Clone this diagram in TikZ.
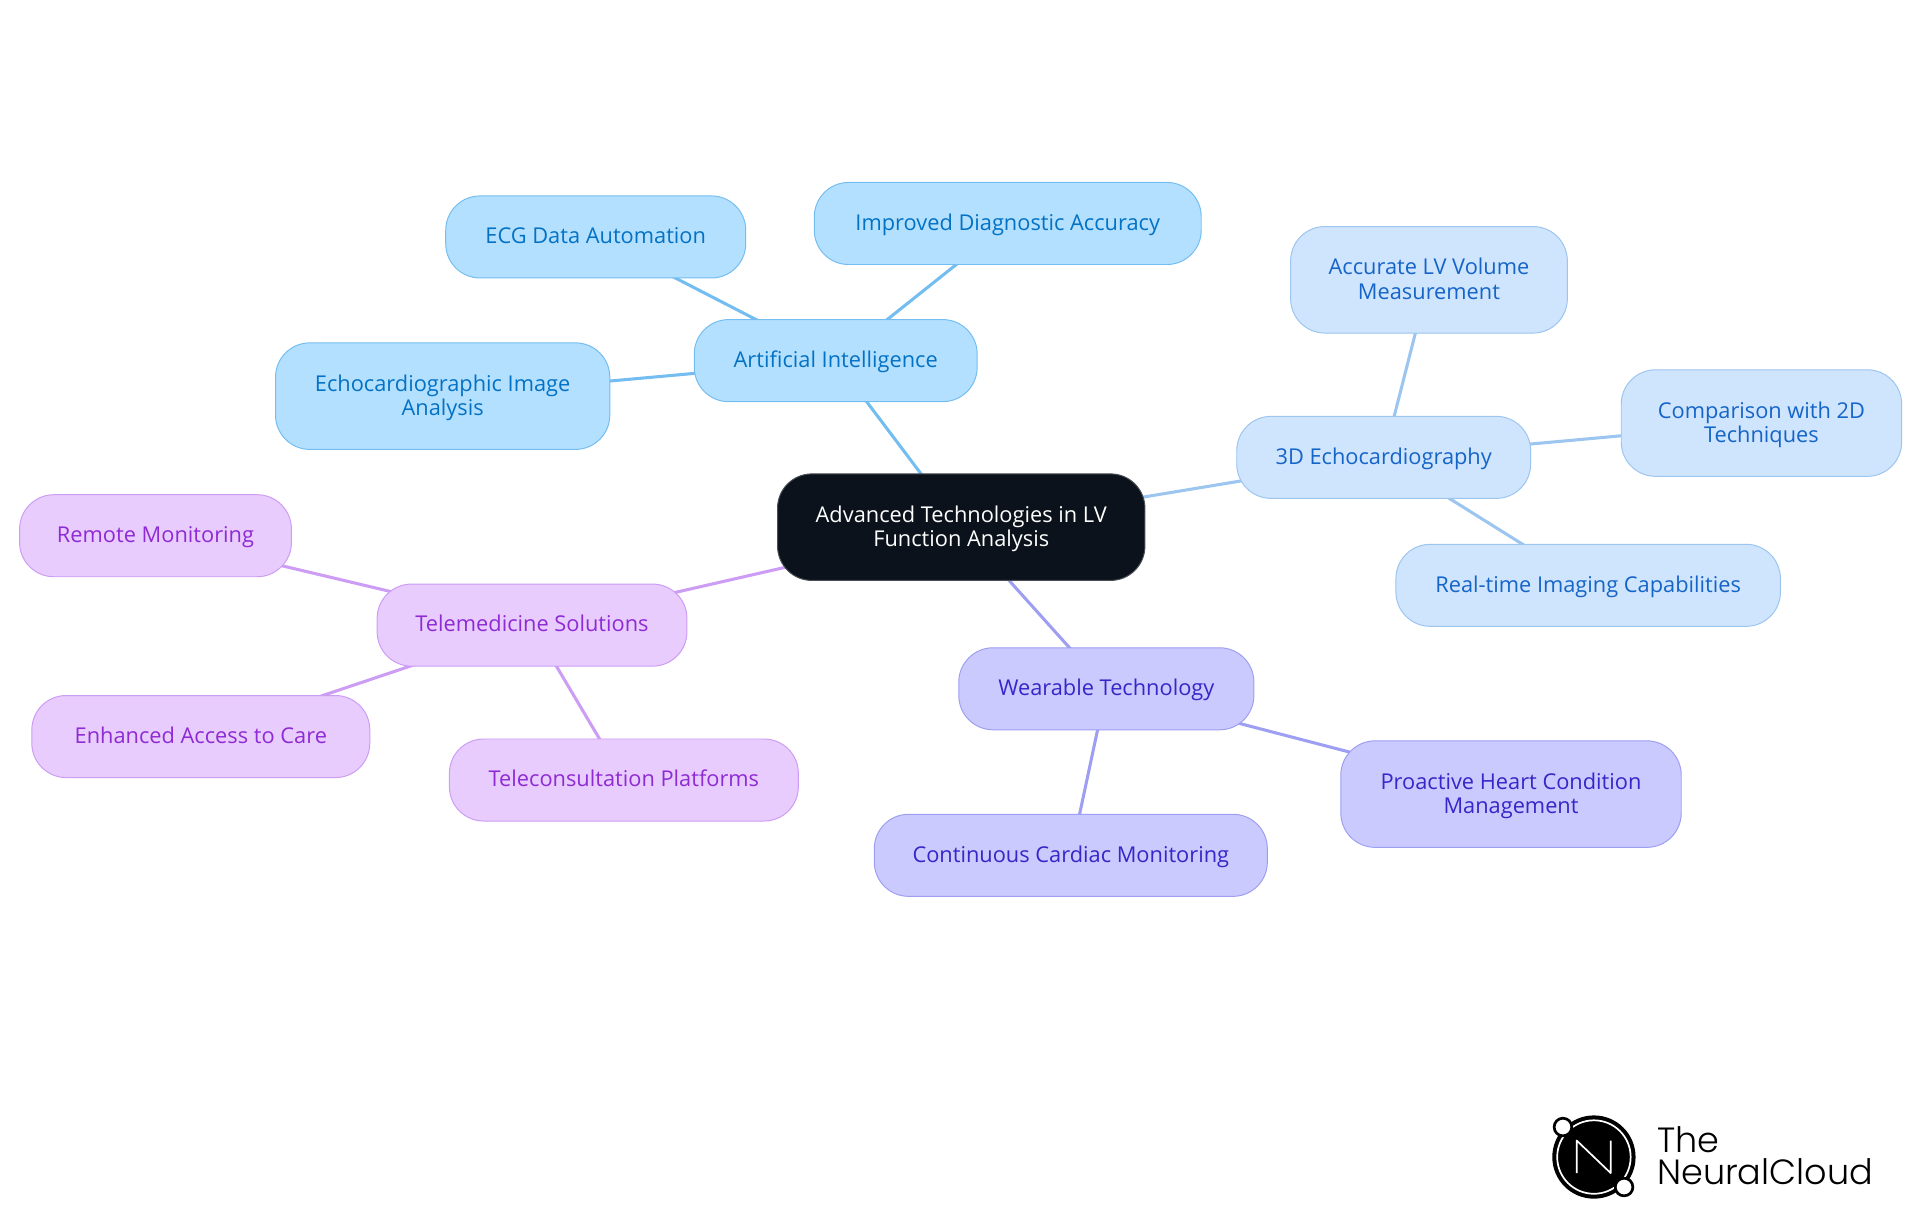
\documentclass[tikz,border=0pt]{standalone}
\usepackage{fontspec}
\setmainfont{Open Sans}
\newfontfamily\logofont[UprightFont=* Light]{Poppins}
\usetikzlibrary{backgrounds}
\definecolor{rootfill}{HTML}{0B121B}
\definecolor{rootline}{HTML}{4A4E54}
\definecolor{afill}{HTML}{B3E0FF}
\definecolor{aline}{HTML}{74BDF0}
\definecolor{atext}{HTML}{0472C4}
\definecolor{bfill}{HTML}{CFE4FD}
\definecolor{bline}{HTML}{9CC5F0}
\definecolor{btext}{HTML}{1565C8}
\definecolor{cfill}{HTML}{CACAFE}
\definecolor{cline}{HTML}{9E9EF2}
\definecolor{ctext}{HTML}{3527C8}
\definecolor{dfill}{HTML}{E8CCFD}
\definecolor{dline}{HTML}{CD9CF4}
\definecolor{dtext}{HTML}{8E2BD4}
\tikzset{
  mapbox/.style={draw, rounded corners=14pt, line width=0.4pt, align=center, inner sep=0pt, font=\fontsize{8.9}{10}\selectfont},
  onebox/.style={mapbox, minimum height=33.5pt, text height=7.2pt, text depth=1.7pt},
  twobox/.style={mapbox, minimum height=43.5pt, text height=17pt, text depth=1pt},
  abox/.style={fill=afill, draw=aline, text=atext},
  bbox/.style={fill=bfill, draw=bline, text=btext},
  cbox/.style={fill=cfill, draw=cline, text=ctext},
  dbox/.style={fill=dfill, draw=dline, text=dtext},
  link/.style={line width=1.25pt}
}

\begin{document}
\begin{tikzpicture}[x=0.5pt, y=-0.5pt]
  \useasboundingbox (0, 0) rectangle (1568, 992.2);

  \node[twobox, fill=rootfill, draw=rootline, text=white, minimum width=150pt] (R) at (785, 430.5) {Advanced Technologies in LV\\Function Analysis};

  \node[onebox, abox, minimum width=115.5pt] (A) at (682.5, 294.5) {Artificial Intelligence};
  \node[onebox, abox, minimum width=122.5pt] (A1) at (486.5, 193.5) {ECG Data Automation};
  \node[onebox, abox, minimum width=158pt] (A2) at (823, 182.5) {Improved Diagnostic Accuracy};
  \node[twobox, abox, minimum width=136.5pt] (A3) at (361.5, 323.5) {Echocardiographic Image\\Analysis};

  \node[onebox, bbox, minimum width=120pt] (B) at (1130, 373.5) {3D Echocardiography};
  \node[twobox, bbox, minimum width=113pt] (B1) at (1167, 228.5) {Accurate LV Volume\\Measurement};
  \node[twobox, bbox, minimum width=114.5pt] (B2) at (1438.5, 345.5) {Comparison with 2D\\Techniques};
  \node[onebox, bbox, minimum width=157pt] (B3) at (1297, 478) {Real-time Imaging Capabilities};

  \node[onebox, cbox, minimum width=120.5pt] (C) at (903.5, 562.5) {Wearable Technology};
  \node[twobox, cbox, minimum width=139pt] (C1) at (1234, 648.5) {Proactive Heart Condition\\Management};
  \node[onebox, cbox, minimum width=160.5pt] (C2) at (874.5, 698.5) {Continuous Cardiac Monitoring};

  \node[onebox, dbox, minimum width=126.5pt] (D) at (434.5, 510.5) {Telemedicine Solutions};
  \node[onebox, dbox, minimum width=111pt] (D1) at (127, 437.5) {Remote Monitoring};
  \node[onebox, dbox, minimum width=138pt] (D2) at (164, 601.5) {Enhanced Access to Care};
  \node[onebox, dbox, minimum width=142.5pt] (D3) at (509.5, 637) {Teleconsultation Platforms};

  \begin{scope}[on background layer]
    \draw[link, draw=aline] (R.center) -- (A.center);
    \draw[link, draw=aline] (A.center) -- (A1.center);
    \draw[link, draw=aline] (A.center) -- (A2.center);
    \draw[link, draw=aline] (A.center) -- (A3.center);

    \draw[link, draw=bline] (R.center) -- (B.center);
    \draw[link, draw=bline] (B.center) -- (B1.center);
    \draw[link, draw=bline] (B.center) -- (B2.center);
    \draw[link, draw=bline] (B.center) -- (B3.center);

    \draw[link, draw=cline] (R.center) -- (C.center);
    \draw[link, draw=cline] (C.center) -- (C1.center);
    \draw[link, draw=cline] (C.center) -- (C2.center);

    \draw[link, draw=dline] (R.center) -- (D.center);
    \draw[link, draw=dline] (D.center) -- (D1.center);
    \draw[link, draw=dline] (D.center) -- (D2.center);
    \draw[link, draw=dline] (D.center) -- (D3.center);
  \end{scope}

  \fill[black] (1301.7, 944.9) circle (17pt);
  \draw[white, line width=0.7pt] (1301.7, 944.9) circle (15pt);
  \draw[white, line width=0.7pt, line join=round] (1287.6, 958) -- (1287.6, 931.4) -- (1315.4, 958) -- (1315.4, 931.4);
  \draw[black, fill=white, line width=1.1pt] (1276.4, 920.4) circle (3.6pt);
  \draw[black, fill=white, line width=1.1pt] (1326.3, 969.4) circle (3.6pt);
  \node[anchor=base west, inner sep=0pt, font=\logofont\fontsize{14.3}{14}\selectfont] (L1) at (1353, 940.8) {The};
  \node[anchor=base west, inner sep=0pt, font=\logofont\fontsize{14.3}{14}\selectfont] (L2) at (1353, 967) {NeuralCloud};
\end{tikzpicture}
\end{document}
